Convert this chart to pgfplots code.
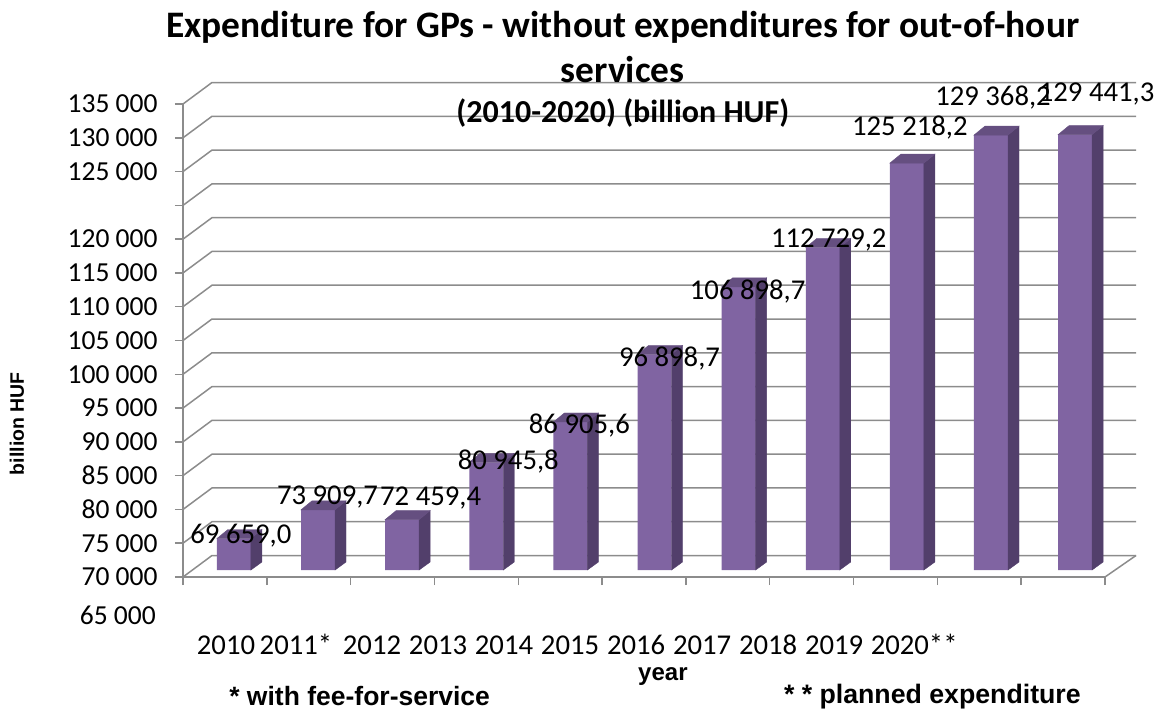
\documentclass[border=0pt]{standalone}
\usepackage{pgfplots}
\usepackage{pgfplotstable}
\usepackage{fontspec}
\pgfplotsset{compat=1.18}
\setmainfont{Carlito}
\newfontfamily\arialfont{Liberation Sans}
\definecolor{barfront}{HTML}{8064A2}
\definecolor{barside}{HTML}{523F6B}
\definecolor{bartop}{HTML}{654F80}
\definecolor{gridgrey}{HTML}{8C8C8C}
\pgfdeclareplotmark{nil}{}

% year index, expenditure, label offset from the bar's top edge (x, y)
\pgfplotstableread{
idx value    dx    dy
0   69659.0  16.0  -5
1   73909.7  18.5   5
2   72459.4  37.5  14
3   80945.8  31.0  -7
4   86905.6  18.0 -12
5   96898.7  24.0 -12
6   106898.7 18.0 -13
7   112729.2 15.0   0
8   125218.2 12.0  28
9   129368.2 11.0  30
10  129441.3 30.5  33
}\expenditure

\begin{document}
\begin{tikzpicture}
\useasboundingbox (0pt,0pt) rectangle (1161pt,713pt);
\begin{axis}[
  at={(183pt,136pt)}, anchor=south west,
  scale only axis, width=922pt, height=473pt,
  xmin=-0.5, xmax=10.5, ymin=65000, ymax=135000,
  clip=false,
  scaled y ticks=false,
  axis x line*=bottom, axis y line*=left,
  axis line style={gridgrey, line width=1.5pt, -},
  tick style={gridgrey, line width=1.5pt},
  tick align=outside, major tick length=8pt,
  font=\fontsize{28}{30}\selectfont,
  xtick={-0.5,0.5,1.5,2.5,3.5,4.5,5.5,6.5,7.5,8.5,9.5,10.5}, xticklabels={},
  extra x ticks={0.013,0.848,1.755,2.543,3.33,4.118,4.906,5.693,6.481,7.268,8.223},
  extra x tick labels={2010,2011*,2012,2013,2014,2015,2016,2017,2018,2019,2020**},
  extra x tick style={major tick length=0pt,
    xticklabel style={anchor=base, yshift=-77pt, font=\fontsize{28.7}{30}\selectfont}},
  ytick={65000,70000,75000,80000,85000,90000,95000,100000,105000,110000,115000,120000,125000,130000,135000},
  yticklabels={70 000,75 000,80 000,85 000,90 000,95 000,100 000,105 000,110 000,115 000,120 000,,125 000,130 000,135 000},
  yticklabel style={xshift=-14pt, font=\fontsize{27.5}{30}\selectfont},
  title={Expenditure for GPs - without expenditures for out-of-hour\\services\\[-5pt]{\fontsize{32}{42}\selectfont (2010-2020) (billion HUF)}},
  title style={align=center, at={(0.477,1)}, anchor=south, yshift=-33pt,
    font=\bfseries\fontsize{37.4}{45}\selectfont},
]
% walls: depth lines and back-wall grid
\pgfplotsinvokeforeach{65000,70000,75000,80000,85000,90000,95000,100000,105000,110000,115000,120000,125000,130000,135000}{
  \draw[gridgrey, line width=1.5pt] (axis cs:-0.5,#1) -- ++(29pt,21.5pt) -- ++(924pt,0pt);
}
\draw[gridgrey, line width=1.5pt] (axis cs:10.5,65000) -- ++(31pt,21.5pt);

% side and top faces of each bar
\addplot[scatter, only marks, mark=nil,
  visualization depends on={(\thisrow{value}-65000)*473/70000 \as \barH},
  scatter/@pre marker code/.code={%
    \fill[barside] (26pt,7pt) -- (37pt,16pt) -- (37pt,{15pt-\barH*1pt}) -- (26pt,{7pt-\barH*1pt}) -- cycle;
    \fill[bartop] (-8pt,7pt) -- (3pt,16pt) -- (37pt,16pt) -- (26pt,7pt) -- cycle;
  },
  scatter/@post marker code/.code={},
] table[x expr=\thisrow{idx}*1.0036, y=value] {\expenditure};

% front faces with the stated values
\addplot[ybar, bar width=34pt, bar shift=9pt, yshift=7pt, fill=barfront, draw=none,
  point meta=y,
  visualization depends on={\thisrow{dx} \as \labeldx},
  visualization depends on={\thisrow{dy} \as \labeldy},
  nodes near coords={\pgfmathprintnumber[assume math mode=true,fixed,fixed zerofill,precision=1,use comma,1000 sep={\ }]{\pgfplotspointmeta}},
  every node near coord/.append style={anchor=base, inner sep=0pt, text=black,
    xshift=\labeldx pt, yshift=\labeldy pt, font=\fontsize{28.7}{30}\selectfont},
] table[x expr=\thisrow{idx}*1.0036, y=value] {\expenditure};

% values and captions outside the axis box
\node[anchor=east, inner sep=0pt, font=\fontsize{27.5}{30}\selectfont] at (axis cs:-0.5,59376) [xshift=-27pt] {65 000};
\node[rotate=90, font=\arialfont\bfseries\fontsize{19.5}{22}\selectfont] at (axis cs:-0.5,87700) [xshift=0pt, yshift=166pt] {billion HUF};
\node[anchor=base, inner sep=0pt, font=\arialfont\bfseries\fontsize{24}{26}\selectfont] at (axis cs:5.5,65000) [xshift=-23pt, yshift=-103pt] {year};
\node[anchor=base, inner sep=0pt, font=\arialfont\bfseries\fontsize{26.5}{28}\selectfont] at (axis cs:1.5,65000) [xshift=9pt, yshift=-128pt] {* with fee-for-service};
\node[anchor=base, inner sep=0pt, font=\arialfont\bfseries\fontsize{26.7}{28}\selectfont] at (axis cs:8.5,65000) [xshift=-5pt, yshift=-126pt] {* * planned expenditure};
\end{axis}
\end{tikzpicture}
\end{document}
